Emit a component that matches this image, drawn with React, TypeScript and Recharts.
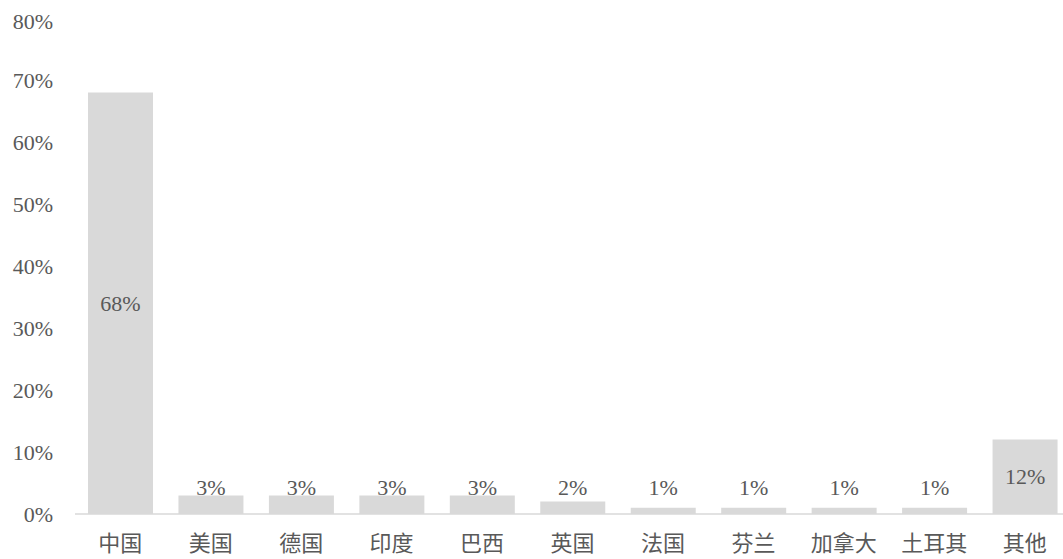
import React from "react";
import { BarChart, Bar, XAxis, YAxis, LabelList } from "recharts";

const categories = ["中国", "美国", "德国", "印度", "巴西", "英国", "法国", "芬兰", "加拿大", "土耳其", "其他"];
const shares = [0.68, 0.03, 0.03, 0.03, 0.03, 0.02, 0.01, 0.01, 0.01, 0.01, 0.12];
const yTicks = [0, 0.1, 0.2, 0.3, 0.4, 0.5, 0.6, 0.7, 0.8];

const data = categories.map((name, i) => ({ name, value: shares[i] }));

const FONT = "'Liberation Serif', 'Noto Sans CJK SC', serif";
const TEXT = "#595959";

const pct = (v: number) => `${Math.round(v * 100)}%`;

const renderLabel = (props: any) => {
  const { x, y, width, height, value } = props;
  const cx = Number(x) + Number(width) / 2;
  const base = Number(y) + Number(height);
  const cy = value >= 0.1 ? Number(y) + Number(height) / 2 : base - 27;
  return (
    <text x={cx} y={cy} textAnchor="middle" dominantBaseline="central" fill={TEXT} fontSize={22} fontFamily={FONT}>
      {pct(value)}
    </text>
  );
};

export default function App() {
  return (
    <div style={{ position: "absolute", left: 8, top: 8, width: 1055, height: 551, overflow: "hidden" }}>
      <BarChart width={1062} height={556} data={data} margin={{ top: 10, right: 0, bottom: 0, left: 0 }}>
        <XAxis
          dataKey="name"
          axisLine={{ stroke: "#d9d9d9", strokeWidth: 1.5 }}
          tickLine={false}
          tickSize={0}
          tickMargin={21}
          height={50}
          interval={0}
          tick={{ fill: TEXT, fontSize: 22, fontFamily: FONT }}
        />
        <YAxis
          domain={[0, 0.8]}
          ticks={yTicks}
          tickFormatter={pct}
          axisLine={false}
          tickLine={false}
          tickSize={0}
          tickMargin={22}
          width={67}
          tick={{ fill: TEXT, fontSize: 22, fontFamily: FONT }}
        />
        <Bar dataKey="value" fill="#d9d9d9" barSize={65} isAnimationActive={false}>
          <LabelList dataKey="value" content={renderLabel} />
        </Bar>
      </BarChart>
    </div>
  );
}
